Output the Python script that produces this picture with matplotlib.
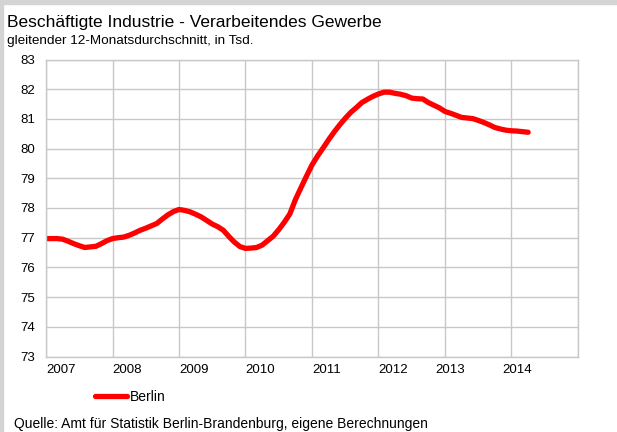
import matplotlib
matplotlib.use("Agg")
import matplotlib.pyplot as plt
import matplotlib.patches as patches
import matplotlib.transforms as mtransforms
import numpy as np

plt.rcParams['font.family'] = ['Liberation Sans', 'DejaVu Sans']

# Beschäftigte Berlin, gleitender 12-Monatsdurchschnitt (Tsd.), Jan 2007 - Apr 2014
berlin = [
    76.97, 76.97, 76.97, 76.95, 76.88, 76.80, 76.73, 76.67, 76.69, 76.71, 76.80, 76.90,  # 2007
    76.97, 77.00, 77.02, 77.08, 77.16, 77.25, 77.32, 77.40, 77.48, 77.63, 77.77, 77.88,  # 2008
    77.95, 77.92, 77.87, 77.79, 77.70, 77.58, 77.46, 77.37, 77.25, 77.04, 76.85, 76.70,  # 2009
    76.64, 76.65, 76.67, 76.75, 76.90, 77.05, 77.27, 77.52, 77.80, 78.28, 78.68, 79.07,  # 2010
    79.45, 79.75, 80.02, 80.30, 80.56, 80.80, 81.02, 81.22, 81.38, 81.55, 81.66, 81.76,  # 2011
    81.84, 81.90, 81.90, 81.86, 81.83, 81.78, 81.70, 81.68, 81.67, 81.55, 81.46, 81.37,  # 2012
    81.25, 81.19, 81.12, 81.05, 81.03, 81.01, 80.95, 80.88, 80.80, 80.71, 80.66, 80.62,  # 2013
    80.60, 80.59, 80.57, 80.55,                                                          # 2014
]
years = ['2007', '2008', '2009', '2010', '2011', '2012', '2013', '2014']
year_label_pos = [0, 12, 24, 36, 48, 60, 70.2, 82.3]  # month index where each label starts
y_ticks = list(range(73, 84))

months = np.arange(len(berlin))

fig = plt.figure(figsize=(6.17, 4.32), dpi=100)
ax = fig.add_axes([46 / 617, 1 - 356.5 / 432, 532 / 617, 297 / 432])

ax.plot(months, berlin, color='#ff0000', lw=3.8, solid_capstyle='round', label='Berlin')

ax.set_xlim(0, 96)
ax.set_ylim(73, 83)
ax.set_yticks(y_ticks)
ax.set_xticks(np.arange(0, 97, 12))
ax.set_xticklabels([])
ax.tick_params(axis='both', length=0, labelsize=9.5)
ax.tick_params(axis='y', pad=8)
ax.grid(True, color='#c8c8c8', lw=1)
ax.set_axisbelow(True)
for s in ax.spines.values():
    s.set_color('#c8c8c8')
    s.set_linewidth(1)

# year labels sit to the right of the gridlines
trans = mtransforms.blended_transform_factory(ax.transData, ax.transAxes)
for pos, yr in zip(year_label_pos, years):
    ax.text(pos, -0.045, yr, transform=trans, ha='left', va='center', fontsize=9.5)

fig.text(7 / 617, 1 - 27 / 432, 'Beschäftigte Industrie - Verarbeitendes Gewerbe',
         fontsize=12.5, va='baseline', ha='left')
fig.text(7 / 617, 1 - 44 / 432, 'gleitender 12-Monatsdurchschnitt, in Tsd.',
         fontsize=9.7, va='baseline', ha='left')

fig.legend(loc='center left', bbox_to_anchor=(95 / 617, 1 - 397 / 432), frameon=False,
           fontsize=10, handlelength=2.3, handletextpad=0.2, borderpad=0, borderaxespad=0)

fig.text(14 / 617, 1 - 424 / 432, 'Quelle: Amt für Statistik Berlin-Brandenburg, eigene Berechnungen',
         fontsize=10, va='center', ha='left')

# light frame on top and left edge
fig.patches.append(patches.Rectangle((0, 1 - 4 / 432), 1, 4 / 432, transform=fig.transFigure,
                                     color='#d4d4d4', zorder=0))
fig.patches.append(patches.Rectangle((0, 0), 3 / 617, 1, transform=fig.transFigure,
                                     color='#d4d4d4', zorder=0))

fig.savefig('out.png', dpi=100)
